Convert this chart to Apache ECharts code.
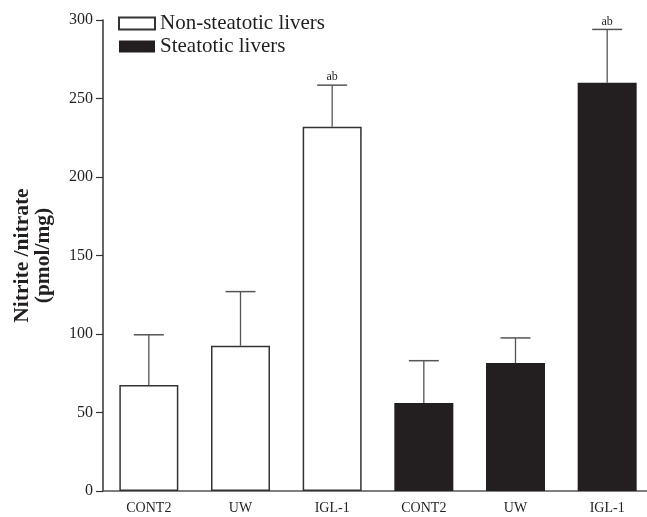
<!DOCTYPE html>
<html><head><meta charset="utf-8">
<script src="https://cdn.jsdelivr.net/npm/echarts@6/dist/echarts.min.js"></script>
<style>html,body{margin:0;padding:0;background:#fff}#c{width:647px;height:517px}</style>
</head><body><div id="c"></div>
<script>
const categories = ['CONT2', 'UW', 'IGL-1', 'CONT2 ', 'UW ', 'IGL-1 '];
const nonSteatotic = [67.5, 92.5, 232, '-', '-', '-'];
const steatotic = ['-', '-', '-', 56, 81.5, 260];
const errorTop = [99.5, 127, 258.5, 83, 97.5, 294];
const means = [67.5, 92.5, 232, 56, 81.5, 260];
const sigLabels = ['', '', 'ab', '', '', 'ab'];
const yTicks = [0, 50, 100, 150, 200, 250, 300];

const FONT = "'Liberation Serif', 'Times New Roman', serif";
const chart = echarts.init(document.getElementById('c'), null, {renderer: 'canvas'});
chart.setOption({
  backgroundColor: '#fff',
  animation: false,
  grid: {left: 103, top: 20, width: 550, bottom: 26, outerBoundsMode: 'none', containLabel: false},
  legend: {
    orient: 'vertical', left: 113, top: 8, itemWidth: 36, itemHeight: 12, itemGap: 2,
    icon: 'rect',
    textStyle: {fontFamily: FONT, fontSize: 21, color: '#231f20'},
    data: ['Non-steatotic livers', 'Steatotic livers']
  },
  xAxis: {
    type: 'category', data: categories,
    axisLine: {lineStyle: {color: '#555', width: 1.5}},
    axisTick: {show: false},
    axisLabel: {fontFamily: FONT, fontSize: 14, color: '#231f20', margin: 10,
      formatter: v => v.trim()}
  },
  yAxis: {
    type: 'value', min: 0, max: 300, interval: 50,
    name: 'Nitrite /nitrate\n(pmol/mg)', nameLocation: 'middle', nameGap: 49,
    nameTextStyle: {fontFamily: FONT, fontSize: 21.5, fontWeight: 'bold', color: '#231f20', lineHeight: 21},
    axisLine: {show: true, lineStyle: {color: '#333', width: 1.5}},
    axisTick: {show: true, length: 7, lineStyle: {color: '#333', width: 1.2}},
    axisLabel: {fontFamily: FONT, fontSize: 16, color: '#231f20', margin: 10,
      formatter: v => yTicks.includes(v) ? String(v) : ''},
    splitLine: {show: false}
  },
  series: [
    {name: 'Non-steatotic livers', type: 'bar', data: nonSteatotic, barWidth: 59, barGap: '-100%',
     itemStyle: {color: '#fff', borderColor: '#333', borderWidth: 1.5}},
    {name: 'Steatotic livers', type: 'bar', data: steatotic, barWidth: 59, barGap: '-100%',
     itemStyle: {color: '#231f20', borderColor: '#231f20', borderWidth: 0}},
    {type: 'custom', silent: true, z: 5,
     data: means.map((m, i) => [i, m, errorTop[i]]),
     renderItem: function (params, api) {
       const i = api.value(0);
       const lo = api.coord([i, api.value(1)]);
       const hi = api.coord([i, api.value(2)]);
       const half = 15;
       const children = [
         {type: 'line', shape: {x1: lo[0], y1: lo[1], x2: hi[0], y2: hi[1]}, style: {stroke: '#555', lineWidth: 1.3}},
         {type: 'line', shape: {x1: hi[0] - half, y1: hi[1], x2: hi[0] + half, y2: hi[1]}, style: {stroke: '#555', lineWidth: 1.5}}
       ];
       const t = sigLabels[i];
       if (t) children.push({type: 'text', style: {text: t, x: hi[0], y: hi[1] - 2, textAlign: 'center', textVerticalAlign: 'bottom', font: '12px ' + FONT, fill: '#231f20'}});
       return {type: 'group', children: children};
     }}
  ]
});
</script></body></html>
